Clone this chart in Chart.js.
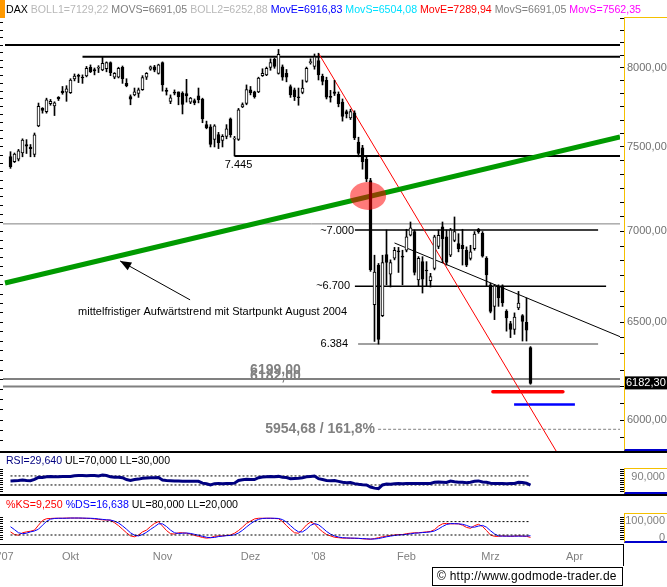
<!DOCTYPE html>
<html>
<head>
<meta charset="utf-8">
<title>DAX</title>
<script src="https://cdn.jsdelivr.net/npm/chart.js@4.4.1/dist/chart.umd.min.js"></script>
<style>
  body { margin: 0; background: #fff; font-family: Arial, "Liberation Sans", sans-serif; }
  #page { position: relative; width: 667px; height: 587px; overflow: hidden; background: #fff; }
  #page canvas, #page .abs { position: absolute; }
  .txt { font-size: 11px; line-height: 13px; white-space: nowrap; transform-origin: 0 0; }
  .frame { border-left: 1px solid #f5c000; border-top: 1px solid #f5c000; border-bottom: 2px solid #0000cc; }
  .axisTxt { right: 2px; color: #808080; text-align: right; }
</style>
</head>
<body>
<div id="page">
  <canvas id="priceChart" width="667" height="452" style="left:0;top:0"></canvas>
  <canvas id="rsiChart" width="667" height="42" style="left:0;top:453px"></canvas>
  <canvas id="stochChart" width="667" height="70" style="left:0;top:496px"></canvas>

  <div class="abs" style="left:0;top:0;width:5px;height:18px;background:#ff9900"></div>
  <div id="head" class="abs txt" style="left:6px;top:3px"></div>
  <div class="abs frame" style="left:624px;top:17px;width:43px;height:431px"></div>

  <div class="abs" style="left:0;top:451px;width:667px;height:2px;background:#000"></div>
  <div id="rsiLabel" class="abs txt" style="left:6px;top:454px"></div>
  <div class="abs frame" style="left:624px;top:468px;width:43px;height:23px"></div>
  <div class="abs txt axisTxt" style="top:470px">90,000</div>

  <div class="abs" style="left:0;top:494px;width:667px;height:2px;background:#000"></div>
  <div id="stochLabel" class="abs txt" style="left:6px;top:498px"></div>
  <div class="abs frame" style="left:624px;top:513px;width:43px;height:27px"></div>
  <div class="abs txt axisTxt" style="top:514px">100,000</div>
  <div class="abs txt axisTxt" style="top:531px">0</div>

  <div class="abs" style="left:0;top:544px;width:624px;height:1px;background:#000"></div>
  <div class="abs" style="left:623px;top:544px;width:1px;height:22px;background:#000"></div>
  <div class="abs" style="left:432px;top:567px;width:191px;height:19px;box-sizing:border-box;border:1px solid #000;font-size:12px;line-height:17px;padding-left:4px;letter-spacing:0.25px;white-space:nowrap">© http://www.godmode-trader.de</div>
</div>

<script>
// DAX Tageskerzen 10.09.2007 - 17.03.2008 (Index 0 .. 130)
const opens = [
  7441, 7410, 7425, 7463, 7515, 7500, 7455, 7630, 7740, 7720,
  7770, 7755, 7810, 7850, 7843, 7840, 7928, 7950, 7940, 7948,
  8004, 7990, 7998, 7988, 7995, 8035, 7940, 7940, 8004, 7900,
  7815, 7826, 7835, 7860, 7940, 7992, 8008, 7965, 8035, 7855,
  7785, 7840, 7845, 7838, 7835, 7780, 7790, 7820, 7800, 7638,
  7624, 7546, 7576, 7540, 7565, 7674, 7548, 7546, 7750, 7772,
  7858, 7845, 7845, 7950, 7955, 8004, 8057, 7965, 8008, 7965,
  7880, 7858, 7812, 7842, 7912, 8035, 8010, 8048, 7945, 7920,
  7815, 7845, 7830, 7780, 7720, 7680, 7712, 7530, 7495, 7425,
  7296, 6593, 6810, 6534, 6869, 6759, 6849, 6889, 6859, 6893,
  6979, 6999, 6728, 6829, 6781, 6724, 6792, 6914, 7026, 6969,
  6865, 6949, 6930, 6921, 6893, 6847, 6902, 7012, 6989, 6847,
  6701, 6584, 6689, 6696, 6557, 6492, 6461, 6575, 6535, 6499,
  6366
];
const highs = [
  7471, 7463, 7485, 7550, 7545, 7515, 7586, 7774, 7745, 7805,
  7797, 7782, 7815, 7880, 7885, 7930, 7961, 7960, 7955, 8010,
  8020, 8000, 8015, 8074, 8040, 8040, 7970, 8005, 8013, 7930,
  7826, 7870, 7870, 7950, 7970, 8013, 8017, 8025, 8040, 7870,
  7826, 7858, 7845, 7846, 7926, 7810, 7800, 7870, 7805, 7660,
  7638, 7638, 7590, 7576, 7638, 7680, 7565, 7740, 7775, 7890,
  7880, 7850, 7940, 7995, 8006, 8060, 8064, 8122, 8020, 7990,
  7890, 7870, 7870, 7922, 8006, 8060, 8092, 8097, 7960, 7940,
  7855, 7920, 7845, 7800, 7730, 7735, 7725, 7560, 7510, 7441,
  7310, 6865, 6819, 6865, 7008, 6839, 6909, 6909, 6893, 7012,
  7054, 7008, 6857, 6857, 6829, 6764, 6978, 7008, 7054, 7008,
  7017, 7083, 6987, 7012, 6912, 6921, 6999, 7017, 6999, 6857,
  6710, 6701, 6701, 6701, 6566, 6504, 6549, 6665, 6540, 6629,
  6371
];
const lows = [
  7370, 7405, 7415, 7440, 7460, 7440, 7440, 7625, 7710, 7710,
  7760, 7695, 7790, 7830, 7785, 7835, 7916, 7905, 7900, 7942,
  7970, 7955, 7970, 7982, 7975, 7950, 7930, 7935, 7900, 7878,
  7763, 7820, 7810, 7855, 7925, 7985, 7975, 7960, 7850, 7825,
  7770, 7826, 7763, 7705, 7780, 7770, 7763, 7775, 7650, 7612,
  7500, 7500, 7490, 7500, 7550, 7560, 7445, 7540, 7745, 7763,
  7826, 7805, 7840, 7945, 7950, 7985, 7998, 7960, 7920, 7910,
  7810, 7790, 7760, 7833, 7907, 8025, 7992, 7922, 7890, 7800,
  7780, 7822, 7750, 7660, 7680, 7670, 7545, 7440, 7365, 7290,
  6775, 6398, 6384, 6529, 6701, 6689, 6839, 6769, 6701, 6884,
  6974, 6755, 6695, 6656, 6694, 6689, 6783, 6902, 6824, 6810,
  6857, 6941, 6884, 6810, 6801, 6838, 6893, 6989, 6854, 6695,
  6549, 6513, 6584, 6584, 6452, 6418, 6435, 6566, 6400, 6400,
  6178
];
const closes = [
  7380, 7457, 7477, 7542, 7505, 7490, 7574, 7753, 7728, 7794,
  7785, 7775, 7800, 7840, 7865, 7922, 7948, 7945, 7935, 7998,
  7976, 7980, 8002, 8030, 8035, 7970, 7965, 7998, 7930, 7885,
  7798, 7845, 7858, 7938, 7965, 8008, 7985, 8020, 7890, 7848,
  7808, 7837, 7814, 7765, 7820, 7805, 7775, 7795, 7674, 7618,
  7515, 7630, 7526, 7565, 7612, 7576, 7555, 7731, 7765, 7860,
  7840, 7815, 7935, 7965, 7998, 8035, 8010, 8090, 7940, 7940,
  7826, 7815, 7808, 7870, 7998, 8040, 8074, 7955, 7912, 7812,
  7810, 7835, 7770, 7690, 7705, 7720, 7555, 7460, 7410, 7306,
  6785, 6771, 6408, 6824, 6824, 6824, 6893, 6884, 6854, 6969,
  7021, 6769, 6847, 6732, 6777, 6746, 6969, 6978, 6959, 6824,
  7008, 6999, 6902, 6902, 6810, 6884, 6984, 6999, 6860, 6755,
  6557, 6696, 6629, 6602, 6522, 6461, 6527, 6602, 6504, 6457,
  6182.3
];

const rsi = [
  48, 49, 50, 52, 50, 49, 55, 64, 63, 66,
  67, 66, 66, 67, 67, 68, 71, 72, 72, 71,
  72, 72, 70, 74, 72, 66, 64, 64, 62, 54,
  50, 54, 56, 60, 61, 62, 62, 63, 52, 50,
  49, 48, 48, 46, 47, 47, 46, 46, 38, 35,
  30, 36, 37, 35, 37, 36, 38, 50, 53, 55,
  54, 54, 62, 65, 66, 67, 66, 68, 64, 63,
  58, 59, 60, 62, 66, 68, 70, 58, 54, 50,
  49, 50, 46, 42, 40, 41, 36, 33, 31, 30,
  21, 16, 14, 30, 34, 33, 35, 36, 35, 36,
  37, 36, 36, 37, 36, 37, 42, 43, 42, 41,
  47, 44, 42, 42, 40, 42, 46, 48, 43, 42,
  38, 37, 36, 36, 35, 36, 37, 42, 41, 38,
  29.64
];
const stochK = [
  34, 22, 19, 30, 34, 37, 42, 64, 85, 93,
  94, 95, 95, 95, 96, 96, 96, 96, 95, 95,
  94, 92, 90, 88, 87, 86, 75, 62, 46, 30,
  16, 12, 20, 34, 42, 58, 72, 80, 60, 40,
  26, 24, 30, 30, 28, 24, 18, 14, 9, 6,
  8, 14, 16, 16, 18, 20, 28, 40, 55, 72,
  82, 92, 95, 95, 95, 95, 94, 93, 80, 62,
  45, 30, 28, 45, 65, 78, 70, 50, 35, 22,
  16, 10, 8, 6, 6, 6, 5, 5, 3, 2,
  1, 4, 8, 12, 15, 18, 20, 22, 22, 26,
  28, 30, 30, 32, 34, 36, 44, 60, 70, 72,
  70, 70, 70, 64, 54, 50, 62, 68, 58, 40,
  20, 14, 14, 16, 15, 14, 15, 16, 15, 14,
  9.25
];
const stochD = [
  57, 44, 30, 26, 28, 34, 38, 46, 64, 81,
  91, 94, 95, 95, 95, 96, 96, 96, 96, 95,
  95, 94, 92, 90, 88, 87, 82, 74, 61, 46,
  30, 19, 16, 22, 32, 45, 57, 70, 70, 58,
  42, 30, 27, 28, 29, 27, 23, 19, 14, 10,
  8, 9, 13, 15, 17, 18, 21, 29, 41, 56,
  70, 82, 90, 94, 95, 95, 95, 94, 89, 78,
  62, 46, 34, 34, 46, 63, 71, 66, 52, 36,
  24, 16, 11, 8, 7, 6, 6, 5, 4, 3,
  2, 2, 4, 8, 12, 15, 18, 20, 21, 23,
  25, 28, 29, 31, 32, 34, 38, 47, 58, 67,
  71, 71, 70, 68, 63, 56, 55, 60, 63, 55,
  39, 25, 16, 15, 15, 15, 15, 15, 15, 15,
  16.638
];
const rsiBands = [70, 30];
const stochBands = [80, 20];

const monthTicks = [-1, 15, 38, 60, 77, 99, 120, 141];
const monthLabels = ["'07", 'Okt', 'Nov', 'Dez', "'08", 'Feb', 'Mrz', 'Apr'];

const headerNames = ['BOLL1', 'MOVS', 'BOLL2', 'MovE', 'MovS', 'MovE', 'MovS', 'MovS'];
const headerValues = [7129.22, 6691.05, 6252.88, 6916.83, 6504.08, 7289.94, 6691.05, 7562.35];

// Horizontale Marken: Kurs, von Index, bis Index
const levelValues = [8151, 8074, 7445, 7043, 7008, 6693, 6385, 6205, 6167, 5954.68, 6140, 6076];
const levelFrom = [-1.375, 18, 56, -1.875, 86.1, 86.1, 86.9, -1.875, -1.875, 91.9, 120.6, 125.9];
const levelTo = [152.375, 152.375, 152.375, 152.375, 146.9, 148.9, 146.9, 152.375, 152.375, 152.375, 138.1, 141.1];

// Trendlinien: [Index, Kurs]
const trendFrom = [[-1.375, 6711], [77, 8097], [96, 6934]];
const trendTo = [[152.375, 7562], [137, 5831], [152.375, 6423]];

const noteTexts = ['7.445', '~7.000', '~6.700', '6.384', '6199,00', '6182,00', '5954,68 / 161,8%',
  'mittelfristiger Aufwärtstrend mit Startpunkt August 2004'];
const noteIndex = [57, 85.9, 84.9, 84.4, 59.9, 59.9, 91.1, 16.9];
const notePrice = [7390, 7002, 6695, 6385, 6251, 6217, 5954.68, 6554];

const circleAt = [89.4, 7206];
const arrowFrom = [44.9, 6619];
const arrowTo = [27.4, 6833];

// ---- Darstellung ----
const FONT = 'Arial, "Liberation Sans", sans-serif';
Chart.defaults.font.family = FONT;
Chart.defaults.color = '#808080';

const xMin = -1.875, xMax = 152.375;
const fmt = (v, d) => v.toFixed(d).replace('.', ',');

// Textzeile auf die Breite im Original bringen
function fitWidth(el, width) {
  const w = el.getBoundingClientRect().width;
  if (w > 0) el.style.transform = 'scaleX(' + (width / w) + ')';
}

const headerColors = ['#b8b8b8', '#808080', '#b8b8b8', '#0000ff', '#00e0ff', '#ff0000', '#808080', '#ff00ff'];
const head = document.getElementById('head');
head.innerHTML = '<span style="color:#000">DAX</span> ' +
  headerNames.map((n, k) => '<span style="color:' + headerColors[k] + '">' + n + '=' + fmt(headerValues[k], 2) + '</span>').join(' ');
fitWidth(head, 635);

const rsiLabel = document.getElementById('rsiLabel');
rsiLabel.innerHTML =
  '<span style="color:#000080">RSI=' + fmt(rsi[rsi.length - 1], 3) + '</span> UL=' + fmt(rsiBands[0], 3) + ' LL=' + fmt(rsiBands[1], 3);
fitWidth(rsiLabel, 164);

const stochLabel = document.getElementById('stochLabel');
stochLabel.innerHTML =
  '<span style="color:#ff0000">%KS=' + fmt(stochK[stochK.length - 1], 3) + '</span> <span style="color:#0000ff">%DS=' +
  fmt(stochD[stochD.length - 1], 3) + '</span> UL=' + fmt(stochBands[0], 3) + ' LL=' + fmt(stochBands[1], 3);
fitWidth(stochLabel, 232);

const levelColors = ['#000', '#000', '#000', '#808080', '#000', '#000', '#808080', '#808080', '#808080', '#808080', '#ff0000', '#0000ff'];
const levelWidths = [2, 2, 2, 1, 1.5, 1.5, 1.5, 2, 2, 1, 3.5, 2.5];
const trendColors = ['#009a00', '#ff0000', '#000'];
const trendWidths = [5, 1, 1];
const noteAlign = ['center', 'right', 'right', 'right', 'left', 'left', 'right', 'left'];
const noteBold = [false, false, false, false, true, true, true, false];
const noteColors = ['#000', '#000', '#000', '#000', '#808080', '#808080', '#808080', '#000'];

// keine automatischen Randabstände durch Achsenbeschriftungen
function noPad(s) {
  s.paddingTop = 0;
  s.paddingBottom = 0;
  s.paddingLeft = 0;
  s.paddingRight = 0;
}

const levelSets = levelValues.map((v, k) => ({
  type: 'line',
  data: [{ x: levelFrom[k], y: v }, { x: levelTo[k], y: v }],
  borderColor: levelColors[k],
  borderWidth: levelWidths[k],
  borderDash: k === 9 ? [3, 2] : [],
  borderCapStyle: k === 10 ? 'round' : 'butt',
  pointRadius: 0,
  yAxisID: 'y',
  order: 4
}));
const trendSets = trendFrom.map((a, k) => ({
  type: 'line',
  data: [{ x: a[0], y: a[1] }, { x: trendTo[k][0], y: trendTo[k][1] }],
  borderColor: trendColors[k],
  borderWidth: trendWidths[k],
  pointRadius: 0,
  yAxisID: 'y',
  order: 3
}));

const notesPlugin = {
  id: 'notes',
  afterDatasetsDraw(chart) {
    const { ctx, chartArea } = chart;
    const px = v => chart.scales.x.getPixelForValue(v);
    const py = v => chart.scales.y.getPixelForValue(v);
    ctx.save();

    // Pfeil
    const x1 = px(arrowFrom[0]), y1 = py(arrowFrom[1]);
    const x2 = px(arrowTo[0]), y2 = py(arrowTo[1]);
    const ang = Math.atan2(y2 - y1, x2 - x1);
    ctx.strokeStyle = '#000';
    ctx.lineWidth = 1;
    ctx.beginPath();
    ctx.moveTo(x1, y1);
    ctx.lineTo(x2, y2);
    ctx.stroke();
    ctx.fillStyle = '#000';
    ctx.beginPath();
    ctx.moveTo(x2, y2);
    ctx.lineTo(x2 - 12 * Math.cos(ang - 0.38), y2 - 12 * Math.sin(ang - 0.38));
    ctx.lineTo(x2 - 12 * Math.cos(ang + 0.38), y2 - 12 * Math.sin(ang + 0.38));
    ctx.closePath();
    ctx.fill();

    // Beschriftungen
    ctx.textBaseline = 'middle';
    noteTexts.forEach((t, k) => {
      ctx.font = (noteBold[k] ? 'bold 14px ' : '11px ') + FONT;
      ctx.fillStyle = noteColors[k];
      ctx.textAlign = noteAlign[k];
      ctx.fillText(t, px(noteIndex[k]), py(notePrice[k]));
    });

    // Schnittpunkt
    ctx.fillStyle = 'rgba(255, 0, 0, 0.52)';
    ctx.beginPath();
    ctx.ellipse(px(circleAt[0]), py(circleAt[1]), 18, 14, 0, 0, 2 * Math.PI);
    ctx.fill();

    // letzter Kurs
    const last = closes[closes.length - 1];
    const yl = py(last);
    ctx.fillStyle = '#000';
    ctx.fillRect(chartArea.right + 5, yl - 7, 42, 13);
    ctx.fillStyle = '#fff';
    ctx.font = '11px ' + FONT;
    ctx.textAlign = 'left';
    ctx.fillText(fmt(last, 2), chartArea.right + 6, yl - 0.5);
    ctx.restore();
  }
};

const priceTicks = [];
for (let k = 71; k <= 100; k++) priceTicks.push((k * 500) / 6);
const leftTicks = [];
for (let v = 5900; v <= 8300; v += 50) leftTicks.push(v);

new Chart(document.getElementById('priceChart'), {
  type: 'bar',
  data: {
    datasets: [
      {
        label: 'Körper',
        data: closes.map((c, i) => ({ x: i, y: [opens[i], c] })),
        backgroundColor: closes.map((c, i) => (c >= opens[i] ? '#fff' : '#000')),
        borderColor: '#000',
        borderWidth: 1,
        borderSkipped: false,
        barThickness: 3,
        minBarLength: 1,
        grouped: false,
        yAxisID: 'y',
        order: 1
      },
      {
        label: 'Docht',
        data: closes.map((c, i) => ({ x: i, y: [lows[i], highs[i]] })),
        backgroundColor: '#000',
        borderWidth: 0,
        barThickness: 1,
        grouped: false,
        yAxisID: 'y',
        order: 2
      },
      ...levelSets,
      ...trendSets
    ]
  },
  options: {
    responsive: false,
    animation: false,
    events: [],
    layout: { padding: { top: 18, bottom: 1, left: 0, right: 0 }, autoPadding: false },
    plugins: { legend: { display: false }, tooltip: { enabled: false } },
    scales: {
      x: { type: 'linear', min: xMin, max: xMax, offset: false, display: false },
      y: {
        type: 'logarithmic', position: 'right', min: 5850, max: 8333.5, beginAtZero: false,
        afterFit: s => { s.width = 47; noPad(s); },
        afterBuildTicks: s => { s.ticks = priceTicks.map(v => ({ value: v })); },
        ticks: {
          autoSkip: false, padding: 3, color: '#707070', font: { size: 11 },
          callback: v => (v % 500 === 0 ? fmt(v, 2) : '')
        },
        grid: { drawOnChartArea: false, tickLength: 4, color: '#000' },
        border: { display: false }
      },
      yl: {
        type: 'logarithmic', position: 'left', min: 5850, max: 8333.5, beginAtZero: false,
        afterFit: s => { s.width = 3; noPad(s); },
        afterBuildTicks: s => { s.ticks = leftTicks.map(v => ({ value: v })); },
        ticks: { autoSkip: false, padding: 0, font: { size: 1 }, callback: () => '' },
        grid: { drawOnChartArea: false, tickLength: 3, color: '#000' },
        border: { display: false }
      }
    }
  },
  plugins: [notesPlugin]
});

const tenTicks = [0, 10, 20, 30, 40, 50, 60, 70, 80, 90, 100];
function sideAxes(min, max) {
  return {
    y: {
      position: 'right', min: min, max: max,
      afterFit: s => { s.width = 47; noPad(s); },
      afterBuildTicks: s => { s.ticks = tenTicks.map(v => ({ value: v })); },
      ticks: { autoSkip: false, padding: 0, font: { size: 1 }, callback: () => '' },
      grid: { drawOnChartArea: false, tickLength: 4, color: '#000' },
      border: { display: false }
    },
    yl: {
      position: 'left', min: min, max: max,
      afterFit: s => { s.width = 3; noPad(s); },
      afterBuildTicks: s => { s.ticks = tenTicks.map(v => ({ value: v })); },
      ticks: { autoSkip: false, padding: 0, font: { size: 1 }, callback: () => '' },
      grid: { drawOnChartArea: false, tickLength: 3, color: '#000' },
      border: { display: false }
    }
  };
}
function band(v) {
  return {
    data: [{ x: 0, y: v }, { x: closes.length - 1, y: v }],
    borderColor: '#000', borderWidth: 1, borderDash: [2, 2], pointRadius: 0, yAxisID: 'y'
  };
}

new Chart(document.getElementById('rsiChart'), {
  type: 'line',
  data: {
    datasets: [
      { data: rsi.map((v, i) => ({ x: i, y: v })), borderColor: '#000080', borderWidth: 3, pointRadius: 0, yAxisID: 'y' },
      band(rsiBands[0]),
      band(rsiBands[1])
    ]
  },
  options: {
    responsive: false,
    animation: false,
    events: [],
    layout: { padding: { top: 13, bottom: 1, left: 0, right: 0 }, autoPadding: false },
    plugins: { legend: { display: false }, tooltip: { enabled: false } },
    scales: Object.assign({ x: { type: 'linear', min: xMin, max: xMax, offset: false, display: false } }, sideAxes(-10, 114))
  }
});

new Chart(document.getElementById('stochChart'), {
  type: 'line',
  data: {
    datasets: [
      band(stochBands[0]),
      band(stochBands[1]),
      { data: stochD.map((v, i) => ({ x: i, y: v })), borderColor: '#0000ff', borderWidth: 1, pointRadius: 0, yAxisID: 'y' },
      { data: stochK.map((v, i) => ({ x: i, y: v })), borderColor: '#ff0000', borderWidth: 1, pointRadius: 0, yAxisID: 'y' }
    ]
  },
  options: {
    responsive: false,
    animation: false,
    events: [],
    layout: { padding: { top: 15, bottom: 0, left: 0, right: 0 }, autoPadding: false },
    plugins: { legend: { display: false }, tooltip: { enabled: false } },
    scales: Object.assign({
      x: {
        type: 'linear', min: xMin, max: xMax, offset: false, position: 'bottom',
        afterFit: s => { s.height = 22; noPad(s); },
        afterBuildTicks: s => { s.ticks = monthTicks.map(v => ({ value: v })); },
        ticks: {
          autoSkip: false, maxRotation: 0, padding: 6, color: '#808080', font: { size: 11 },
          callback: (v, i) => monthLabels[i]
        },
        grid: { display: false, drawTicks: false },
        border: { display: false }
      }
    }, sideAxes(-20.3, 127.5))
  }
});
</script>
</body>
</html>
